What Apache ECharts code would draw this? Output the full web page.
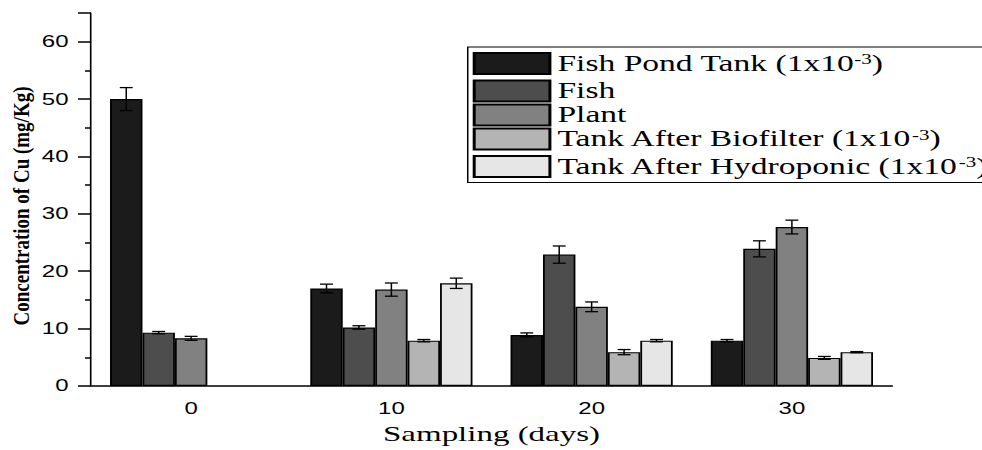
<!DOCTYPE html>
<html>
<head>
<meta charset="utf-8">
<script src="https://cdn.jsdelivr.net/npm/echarts@6/dist/echarts.min.js"></script>
<style>
  html, body { margin: 0; padding: 0; background: #fff; }
  #frame { width: 982px; height: 450px; overflow: hidden; position: relative; }
  /* the plot is laid out narrow and stretched horizontally to the full width */
  #chart { width: 655px; height: 450px; transform: scaleX(1.4992); transform-origin: 0 0; }
</style>
</head>
<body>
<div id="frame"><div id="chart"></div></div>
<script>
// Sampling days (x categories)
const days = ['0', '10', '20', '30'];

// Cu concentration per sample type ('-' = not measured)
const fishPondTank        = [50.0, 17.0, 8.9, 7.9];
const fish                = [9.3, 10.2, 22.9, 23.9];
const plant               = [8.3, 16.8, 13.8, 27.7];
const tankAfterBiofilter  = ['-', 7.9, 5.9, 4.9];
const tankAfterHydroponic = ['-', 17.9, 7.9, 5.9];

// Standard deviations for the error bars
const fishPondTankErr        = [2.0, 0.75, 0.35, 0.2];
const fishErr                = [0.2, 0.3, 1.5, 1.4];
const plantErr               = [0.35, 1.15, 0.85, 1.2];
const tankAfterBiofilterErr  = [0, 0.2, 0.45, 0.25];
const tankAfterHydroponicErr = [0, 0.9, 0.2, 0.1];

const seriesNames = ['Fish Pond Tank', 'Fish', 'Plant', 'Tank After Biofilter', 'Tank After Hydroponic'];
const legendLabels = {
  'Fish Pond Tank': 'Fish Pond Tank (1x10{sup|-3})',
  'Fish': 'Fish',
  'Plant': 'Plant',
  'Tank After Biofilter': 'Tank After Biofilter (1x10{sup|-3})',
  'Tank After Hydroponic': 'Tank After Hydroponic (1x10{sup|-3})'
};
const colors = ['#1b1b1b', '#4d4d4d', '#818181', '#b4b4b4', '#e6e6e6'];
const values = [fishPondTank, fish, plant, tankAfterBiofilter, tankAfterHydroponic];
const errors = [fishPondTankErr, fishErr, plantErr, tankAfterBiofilterErr, tankAfterHydroponicErr];

const CATEGORY_GAP = 0.19;
const N = seriesNames.length;

const chart = echarts.init(document.getElementById('chart'), null, { renderer: 'svg' });

const series = [];
seriesNames.forEach((name, i) => {
  series.push({
    name: name,
    type: 'bar',
    data: values[i],
    barGap: '0%',
    barCategoryGap: (CATEGORY_GAP * 100) + '%',
    itemStyle: { color: colors[i], borderColor: '#000', borderWidth: 1.2 },
    emphasis: { disabled: true },
    z: 2
  });
});

// Error bars drawn over each bar
seriesNames.forEach((name, i) => {
  const data = [];
  values[i].forEach((v, k) => {
    if (v !== '-') data.push([k, v, errors[i][k]]);
  });
  series.push({
    name: name + ' error',
    type: 'custom',
    data: data,
    z: 5,
    silent: true,
    renderItem: function (params, api) {
      const k = api.value(0);
      const v = api.value(1);
      const e = api.value(2);
      const band = api.size([1, 0])[0];
      const bw = band * (1 - CATEGORY_GAP) / N;
      const center = api.coord([k, v]);
      const x = center[0] + (i - (N - 1) / 2) * bw;
      const yTop = api.coord([k, v + e])[1];
      const yBot = api.coord([k, v - e])[1];
      const cap = 4.3;
      return {
        type: 'group',
        children: [
          { type: 'line', shape: { x1: x, y1: yTop, x2: x, y2: yBot }, style: { stroke: '#000', lineWidth: 1 } },
          { type: 'line', shape: { x1: x - cap, y1: yTop, x2: x + cap, y2: yTop }, style: { stroke: '#000', lineWidth: 1.3 } },
          { type: 'line', shape: { x1: x - cap, y1: yBot, x2: x + cap, y2: yBot }, style: { stroke: '#000', lineWidth: 1.3 } }
        ]
      };
    }
  });
});

chart.setOption({
  animation: false,
  backgroundColor: '#fff',
  grid: { left: 60.7, right: 60, top: 13, bottom: 60, containLabel: false },
  graphic: [{
    type: 'text',
    x: 14.5,
    y: 206,
    rotation: Math.PI / 2,
    scaleX: 0.95,
    scaleY: 0.78,
    style: {
      text: 'Concentration of Cu (mg/Kg)',
      fontFamily: 'Liberation Serif',
      fontSize: 20,
      fontWeight: 'bold',
      fill: '#000',
      align: 'center',
      verticalAlign: 'middle'
    }
  }],
  legend: {
    data: seriesNames,
    orient: 'vertical',
    left: 312,
    top: 47,
    icon: 'rect',
    itemWidth: 50.5,
    itemHeight: 21,
    itemGap: 1,
    padding: [5, 6, 1, 3.3],
    borderColor: '#000',
    borderWidth: 1,
    backgroundColor: '#fff',
    selectedMode: false,
    formatter: function (name) { return legendLabels[name]; },
    textStyle: {
      fontFamily: 'Liberation Serif',
      fontSize: 22.4,
      lineHeight: 22,
      color: '#000',
      rich: {
        sup: { fontFamily: 'Liberation Serif', fontSize: 14, color: '#000', verticalAlign: 'top', lineHeight: 10, padding: [0, 0, 12, 0] }
      }
    }
  },
  xAxis: [
    {
      type: 'category',
      data: days,
      position: 'bottom',
      axisLine: { lineStyle: { color: '#000', width: 1.6 } },
      axisTick: { alignWithLabel: true, length: 8, lineStyle: { color: '#000', width: 1.1 } },
      axisLabel: { color: '#000', fontFamily: 'Liberation Sans', fontSize: 16, margin: 14 },
      name: 'Sampling (days)',
      nameLocation: 'middle',
      nameGap: 37,
      nameTextStyle: { fontFamily: 'Liberation Serif', fontSize: 22, color: '#000' }
    },
    {
      // boundary ticks between sampling days
      type: 'category',
      data: days,
      position: 'bottom',
      axisLine: { show: false },
      axisTick: { alignWithLabel: false, length: 4, lineStyle: { color: '#000', width: 1.1 } },
      axisLabel: { show: false }
    }
  ],
  yAxis: {
    type: 'value',
    min: 0,
    max: 65,
    interval: 10,
    splitLine: { show: false },
    axisLine: { show: true, lineStyle: { color: '#000', width: 1.1 } },
    axisTick: { show: true, length: 8.7, lineStyle: { color: '#000', width: 1.5 } },
    minorTick: { show: true, splitNumber: 2, length: 4, lineStyle: { color: '#000', width: 1.5 } },
    axisLabel: {
      color: '#000', fontFamily: 'Liberation Sans', fontSize: 16, margin: 15,
      showMaxLabel: false
    }
  },
  series: series
});
</script>
</body>
</html>
